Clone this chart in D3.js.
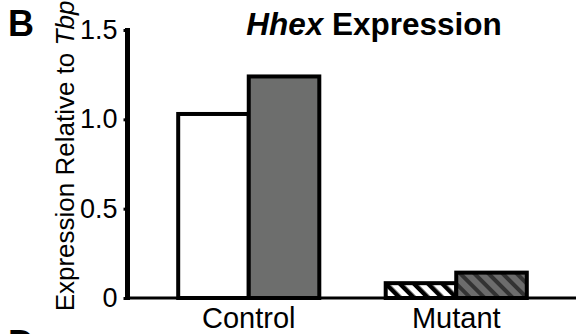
<!DOCTYPE html>
<html><head><meta charset="utf-8">
<script src="https://cdn.jsdelivr.net/npm/d3@7"></script>
<style>html,body{margin:0;padding:0;background:#fff;}svg{display:block;}</style>
</head><body>
<svg id="c" width="576" height="334"></svg>
<script>
const categories = ["Control", "Mutant"];
const seriesNames = ["Series 1", "Series 2"];
const controlValues = [1.03, 1.24];
const mutantValues = [0.083, 0.142];
const yTicks = [0, 0.5, 1.0, 1.5];
const yTickLabels = ["0", "0.5", "1.0", "1.5"];

const data = [
  {cat: "Control", vals: controlValues},
  {cat: "Mutant", vals: mutantValues}
];

const svg = d3.select("#c");
const font = "'Liberation Sans', Arial, Helvetica, sans-serif";

const defs = svg.append("defs");
const p1 = defs.append("pattern").attr("id","hatchW").attr("patternUnits","userSpaceOnUse")
  .attr("width",10).attr("height",10).attr("patternTransform","rotate(-45)");
p1.append("rect").attr("width",10).attr("height",10).attr("fill","#fff");
p1.append("rect").attr("width",4.5).attr("height",10).attr("fill","#000");
const p2 = defs.append("pattern").attr("id","hatchD").attr("patternUnits","userSpaceOnUse")
  .attr("width",10).attr("height",10).attr("patternTransform","rotate(-45)");
p2.append("rect").attr("width",10).attr("height",10).attr("fill","#6c6c6c");
p2.append("rect").attr("width",4).attr("height",10).attr("fill","#333");

const fills = {
  Control: ["#ffffff", "#6d6e6d"],
  Mutant: ["url(#hatchW)", "url(#hatchD)"]
};

const y = d3.scaleLinear().domain([0, 1.5]).range([298, 30]);
const x0 = d3.scaleBand().domain(categories).range([145, 560]).paddingInner(0.32).paddingOuter(0.16);
const x1 = d3.scaleBand().domain(seriesNames).range([0, x0.bandwidth()]).padding(0);

// bars
const g = svg.append("g");
data.forEach(d => {
  d.vals.forEach((v, i) => {
    g.append("rect")
      .attr("x", x0(d.cat) + x1(seriesNames[i]))
      .attr("y", y(v))
      .attr("width", x1.bandwidth())
      .attr("height", y(0) - y(v))
      .attr("fill", fills[d.cat][i])
      .attr("stroke", "#000")
      .attr("stroke-width", 4)
      .attr("stroke-linejoin", "miter");
  });
});

// baseline
svg.append("line").attr("x1", 127).attr("x2", 576).attr("y1", y(0)).attr("y2", y(0))
  .attr("stroke", "#000").attr("stroke-width", 3);

// y axis
const yAxis = d3.axisLeft(y).tickValues(yTicks).tickFormat((d, i) => yTickLabels[i]).tickSize(4).tickPadding(6);
const ya = svg.append("g").attr("transform", "translate(127.5,0)").call(yAxis);
ya.select(".domain").remove();
ya.append("line").attr("x1", 0).attr("x2", 0).attr("y1", 28).attr("y2", 300)
  .attr("stroke", "#000").attr("stroke-width", 5);
ya.selectAll(".tick line").attr("stroke", "#000").attr("stroke-width", 3);
ya.selectAll(".tick text").attr("font-family", font).attr("font-size", 27).attr("fill", "#000");

// x labels
svg.append("g").selectAll("text").data(categories).join("text")
  .attr("x", d => x0(d) + x0.bandwidth() / 2)
  .attr("y", 328)
  .attr("text-anchor", "middle")
  .attr("font-family", font).attr("font-size", 29).attr("fill", "#000")
  .text(d => d);

// y label
const yl = svg.append("text")
  .attr("transform", "translate(74,156) rotate(-90)")
  .attr("text-anchor", "middle")
  .attr("font-family", font).attr("font-size", 26).attr("fill", "#000");
yl.append("tspan").text("Expression Relative to ");
yl.append("tspan").attr("font-style", "italic").text("Tbp");

// title
const t = svg.append("text").attr("x", 374).attr("y", 35).attr("text-anchor", "middle")
  .attr("font-family", font).attr("font-size", 31.5).attr("font-weight", "bold").attr("fill", "#000");
t.append("tspan").attr("font-style", "italic").text("Hhex");
t.append("tspan").text(" Expression");

// panel letters
svg.append("text").attr("x", 8).attr("y", 36).attr("font-family", font).attr("font-size", 36)
  .attr("font-weight", "bold").attr("fill", "#000").text("B");
svg.append("text").attr("x", 8).attr("y", 356).attr("font-family", font).attr("font-size", 36)
  .attr("font-weight", "bold").attr("fill", "#000").text("D");
</script>
</body></html>
